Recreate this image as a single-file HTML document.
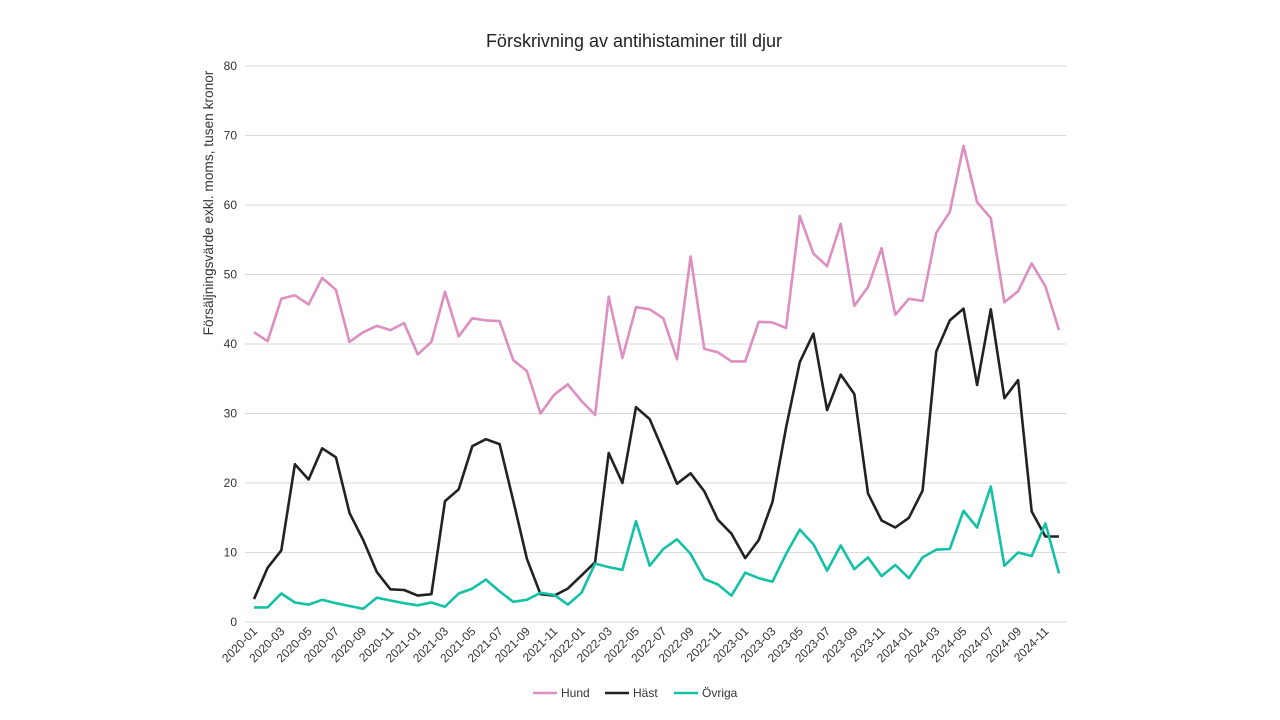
<!DOCTYPE html>
<html><head><meta charset="utf-8"><style>
html,body{margin:0;padding:0;background:#fff;}
svg{display:block;font-family:"Liberation Sans",sans-serif;}
</style></head><body>
<svg id="c" width="1280" height="720" xmlns="http://www.w3.org/2000/svg"></svg>
<script>
const hund=[41.7,40.4,46.5,47,45.7,49.5,47.8,40.3,41.7,42.6,42,43,38.5,40.3,47.5,41.1,43.7,43.4,43.3,37.7,36.1,30,32.7,34.2,31.8,29.8,46.8,38,45.3,45,43.7,37.8,52.6,39.3,38.8,37.5,37.5,43.2,43.1,42.3,58.4,53,51.2,57.3,45.5,48.2,53.8,44.2,46.5,46.2,56,59,68.5,60.4,58.1,46,47.6,51.6,48.3,42];
const hast=[3.3,7.8,10.3,22.7,20.5,25,23.7,15.7,11.8,7.2,4.7,4.6,3.8,4,17.4,19.1,25.3,26.3,25.6,17.5,9.1,4,3.8,4.8,6.7,8.6,24.3,20,30.9,29.2,24.6,19.9,21.4,18.8,14.7,12.7,9.2,11.8,17.3,28,37.4,41.5,30.5,35.6,32.8,18.5,14.6,13.6,15,18.9,38.9,43.4,45.1,34.1,45,32.2,34.8,15.9,12.3,12.3];
const ovr=[2.1,2.1,4.1,2.8,2.5,3.2,2.7,2.3,1.9,3.5,3.1,2.7,2.4,2.8,2.2,4.1,4.8,6.1,4.4,2.9,3.2,4.2,3.9,2.5,4.2,8.4,7.9,7.5,14.5,8.1,10.5,11.9,9.8,6.2,5.4,3.8,7.1,6.3,5.8,9.8,13.3,11.2,7.4,11,7.6,9.3,6.6,8.2,6.3,9.3,10.4,10.5,16,13.6,19.5,8.1,10,9.5,14.2,7];
const X=i=>254+i*(1059-254)/59, Y=v=>622-v*(556/80);
let s='';
s+='<text x="634" y="47" font-size="18" text-anchor="middle" fill="#222">Förskrivning av antihistaminer till djur</text>';
for(let v=0;v<=80;v+=10){const y=Y(v);
 s+=`<line x1="245" x2="1066" y1="${y}" y2="${y}" stroke="#d9d9d9" stroke-width="1"/>`;
 s+=`<text x="237" y="${y+4}" font-size="12" text-anchor="end" fill="#333">${v}</text>`;}
s+='<text transform="translate(213,203) rotate(-90)" font-size="13.7" text-anchor="middle" fill="#333">Försäljningsvärde exkl. moms, tusen kronor</text>';
for(let i=0;i<60;i+=2){const yr=2020+Math.floor(i/12),m=String(i%12+1).padStart(2,'0');
 s+=`<text transform="translate(${X(i)+4},632) rotate(-45)" font-size="12" text-anchor="end" fill="#333">${yr}-${m}</text>`;}
function line(d,c){return `<polyline fill="none" stroke="${c}" stroke-width="2.6" stroke-linejoin="round" points="${d.map((v,i)=>X(i).toFixed(1)+','+Y(v).toFixed(1)).join(' ')}"/>`;}
s+=line(hund,'#dd8fbf')+line(hast,'#222222')+line(ovr,'#13c1a6');
const leg=[['Hund','#dd8fbf',533],['Häst','#222222',605],['Övriga','#13c1a6',674]];
for(const [t,c,x] of leg){s+=`<line x1="${x}" x2="${x+24}" y1="693" y2="693" stroke="${c}" stroke-width="2.6"/><text x="${x+28}" y="697" font-size="12" fill="#333">${t}</text>`;}
document.getElementById('c').innerHTML=s;
</script>
</body></html>
